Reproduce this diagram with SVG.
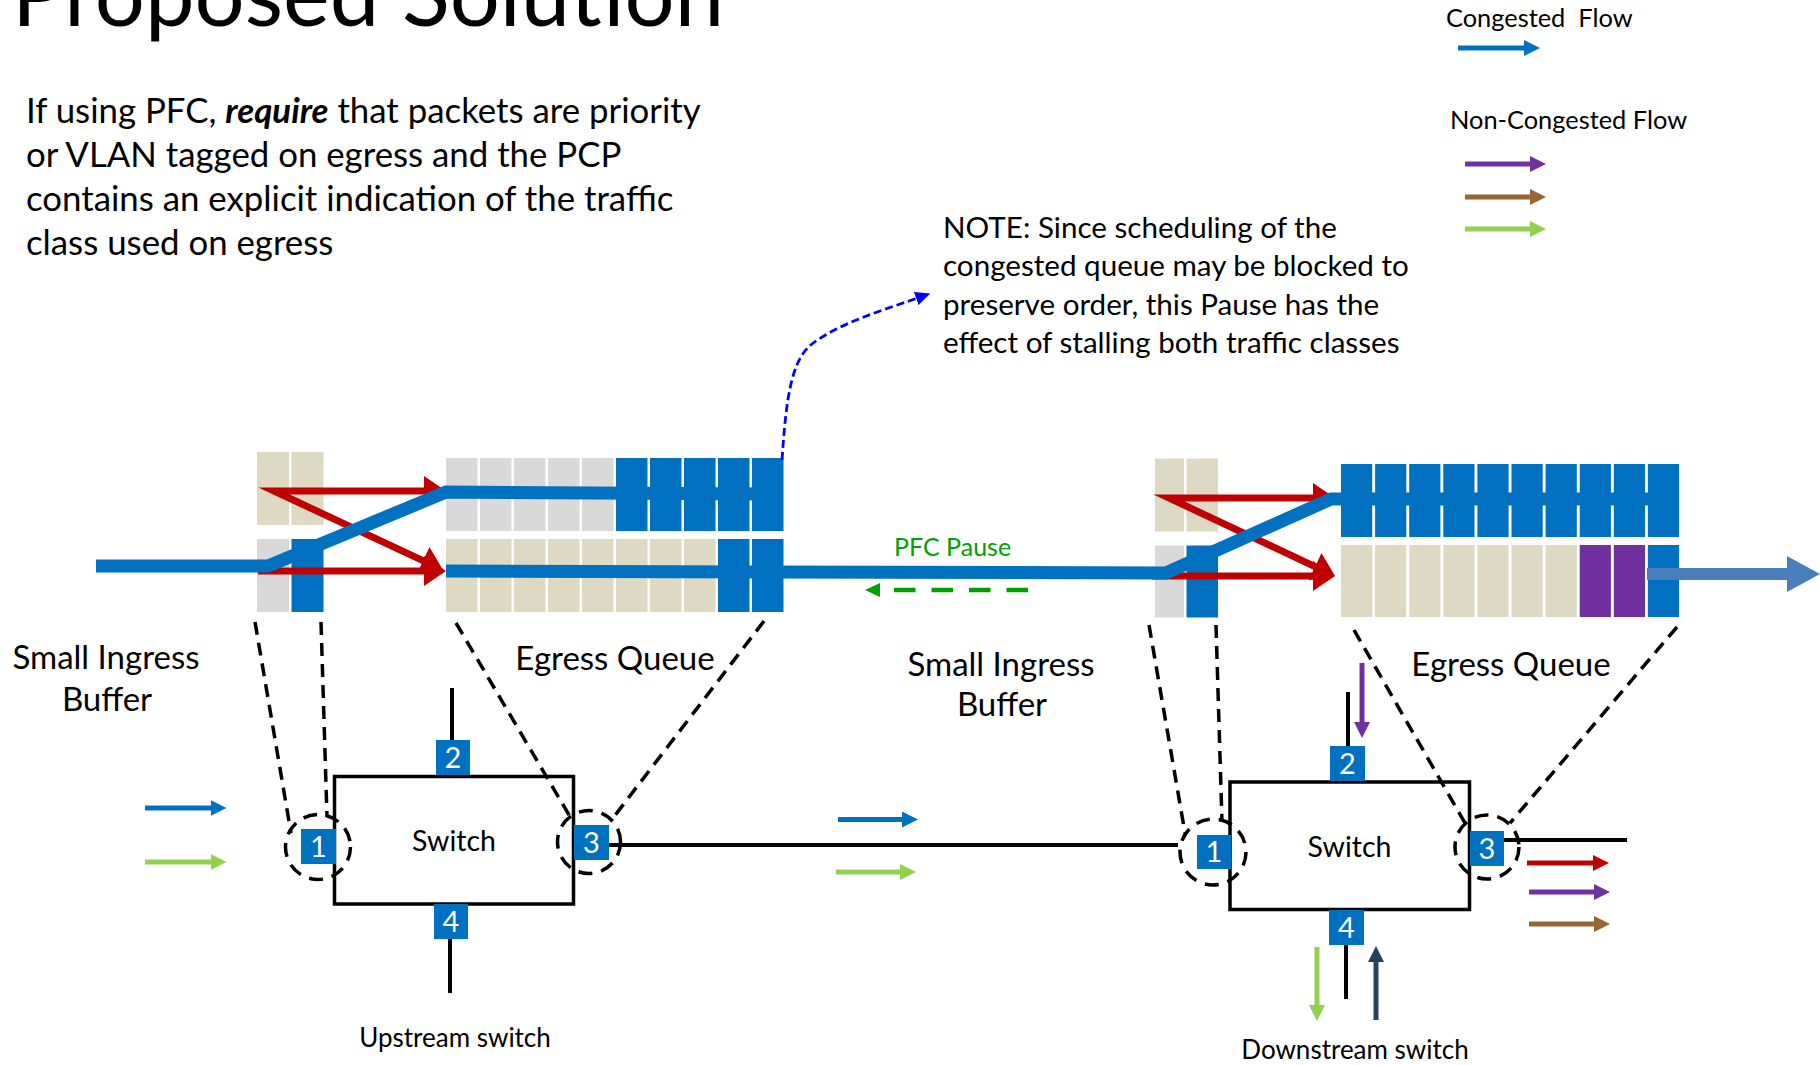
<svg xmlns="http://www.w3.org/2000/svg" width="1820" height="1065" viewBox="0 0 1820 1065">
  <style>
    text { font-family: Lato, "Open Sans", "Liberation Sans", sans-serif; fill: #000; }
    .title { font-size: 88.5px; }
    .body { font-size: 34.8px; }
    .note { font-size: 29.6px; }
    .legend { font-size: 25.4px; white-space: pre; }
    .label { font-size: 33px; text-anchor: middle; }
    .caption { font-size: 26px; text-anchor: middle; }
    .sw { font-size: 28.5px; text-anchor: middle; }
    .pnum { font-size: 29px; fill: #fff; text-anchor: middle; }
    .pause { font-size: 25px; fill: #00A000; }
    .tan { fill: #DDD9C3; }
    .gray { fill: #D9D9D9; }
    .blue { fill: #0070C0; }
    .purple { fill: #7030A0; }
    .port { fill: #0070C0; }
    .box { fill: #fff; stroke: #000; stroke-width: 3.5; }
    .wire { stroke: #000; stroke-width: 4; fill: none; }
    .funnel { stroke: #000; stroke-width: 3.5; stroke-dasharray: 13 8; fill: none; }
    .ring { stroke: #000; stroke-width: 3.5; stroke-dasharray: 14 9; fill: none; }
    .flow { stroke: #0070C0; stroke-width: 13; fill: none; stroke-linejoin: miter; }
    .red { stroke: #C00000; stroke-width: 7; fill: none; stroke-linejoin: miter; stroke-miterlimit: 8; }
    .sa { stroke-width: 5; fill: none; }
  </style>
  <defs>
    <marker id="h-blue" viewBox="0 0 16 16" refX="4" refY="8" markerWidth="16" markerHeight="16" markerUnits="userSpaceOnUse" orient="auto"><path d="M0,0 L16,8 L0,16 z" fill="#0070C0"/></marker>
    <marker id="h-green" viewBox="0 0 16 16" refX="4" refY="8" markerWidth="16" markerHeight="16" markerUnits="userSpaceOnUse" orient="auto"><path d="M0,0 L16,8 L0,16 z" fill="#92D050"/></marker>
    <marker id="h-purple" viewBox="0 0 16 16" refX="4" refY="8" markerWidth="16" markerHeight="16" markerUnits="userSpaceOnUse" orient="auto"><path d="M0,0 L16,8 L0,16 z" fill="#7030A0"/></marker>
    <marker id="h-brown" viewBox="0 0 16 16" refX="4" refY="8" markerWidth="16" markerHeight="16" markerUnits="userSpaceOnUse" orient="auto"><path d="M0,0 L16,8 L0,16 z" fill="#996633"/></marker>
    <marker id="h-red" viewBox="0 0 16 16" refX="4" refY="8" markerWidth="16" markerHeight="16" markerUnits="userSpaceOnUse" orient="auto"><path d="M0,0 L16,8 L0,16 z" fill="#C00000"/></marker>
    <marker id="h-navy" viewBox="0 0 16 16" refX="4" refY="8" markerWidth="16" markerHeight="16" markerUnits="userSpaceOnUse" orient="auto"><path d="M0,0 L16,8 L0,16 z" fill="#254061"/></marker>
    <marker id="h-bigred" viewBox="0 0 22 30" refX="4" refY="15" markerWidth="22" markerHeight="30" markerUnits="userSpaceOnUse" orient="auto-start-reverse"><path d="M0,0 L22,15 L0,30 z" fill="#C00000"/></marker>
    <marker id="h-out" viewBox="0 0 33 36" refX="4" refY="18" markerWidth="33" markerHeight="36" markerUnits="userSpaceOnUse" orient="auto"><path d="M0,0 L33,18 L0,36 z" fill="#4A7EBB"/></marker>
    <marker id="h-dblue" viewBox="0 0 15 14" refX="3" refY="7" markerWidth="15" markerHeight="14" markerUnits="userSpaceOnUse" orient="auto"><path d="M0,0 L15,7 L0,14 z" fill="#0000FF"/></marker>
    <marker id="h-dgreen" viewBox="0 0 15 14" refX="3" refY="7" markerWidth="15" markerHeight="14" markerUnits="userSpaceOnUse" orient="auto"><path d="M0,0 L15,7 L0,14 z" fill="#00A000"/></marker>
  </defs>

  <rect width="1820" height="1065" fill="#fff"/>

  <!-- heading and explanatory text -->
  <text class="title" x="12" y="26">Proposed Solution</text>
  <g id="intro">
    <text class="body" x="26" y="123">If using PFC, <tspan font-weight="bold" font-style="italic">require</tspan> that packets are priority</text>
    <text class="body" x="26" y="167">or VLAN tagged on egress and the PCP</text>
    <text class="body" x="26" y="211">contains an explicit indication of the traffic</text>
    <text class="body" x="26" y="255">class used on egress</text>
  </g>
  <g id="note">
    <text class="note" x="943" y="238">NOTE: Since scheduling of the</text>
    <text class="note" x="943" y="276">congested queue may be blocked to</text>
    <text class="note" x="943" y="314.5">preserve order, this Pause has the</text>
    <text class="note" x="943" y="353">effect of stalling both traffic classes</text>
  </g>

  <!-- legend -->
  <g id="legend">
    <text class="legend" x="1446" y="26.5">Congested  Flow</text>
    <text class="legend" x="1450" y="129">Non-Congested Flow</text>
    <line class="sa" x1="1458" y1="48" x2="1528" y2="48" stroke="#0070C0" marker-end="url(#h-blue)"/>
    <line class="sa" x1="1465" y1="164" x2="1534" y2="164" stroke="#7030A0" marker-end="url(#h-purple)"/>
    <line class="sa" x1="1465" y1="197" x2="1534" y2="197" stroke="#996633" marker-end="url(#h-brown)"/>
    <line class="sa" x1="1465" y1="229" x2="1534" y2="229" stroke="#92D050" marker-end="url(#h-green)"/>
  </g>

  <!-- upstream switch buffers -->
  <g id="ingress-up">
    <rect class="tan" x="257" y="452" width="32" height="73"/>
    <rect class="tan" x="291.5" y="452" width="32" height="73"/>
    <rect class="gray" x="257" y="539" width="32" height="73"/>
    <rect class="blue" x="291.5" y="539" width="32" height="73"/>
  </g>
  <g id="egress-up">
    <rect class="gray" x="446" y="458" width="31.5" height="73"/>
    <rect class="gray" x="480" y="458" width="31.5" height="73"/>
    <rect class="gray" x="514" y="458" width="31.5" height="73"/>
    <rect class="gray" x="548" y="458" width="31.5" height="73"/>
    <rect class="gray" x="582" y="458" width="31.5" height="73"/>
    <rect class="blue" x="616" y="458" width="31.5" height="73"/>
    <rect class="blue" x="650" y="458" width="31.5" height="73"/>
    <rect class="blue" x="684" y="458" width="31.5" height="73"/>
    <rect class="blue" x="718" y="458" width="31.5" height="73"/>
    <rect class="blue" x="752" y="458" width="31.5" height="73"/>
    <rect class="tan" x="446" y="539" width="31.5" height="73"/>
    <rect class="tan" x="480" y="539" width="31.5" height="73"/>
    <rect class="tan" x="514" y="539" width="31.5" height="73"/>
    <rect class="tan" x="548" y="539" width="31.5" height="73"/>
    <rect class="tan" x="582" y="539" width="31.5" height="73"/>
    <rect class="tan" x="616" y="539" width="31.5" height="73"/>
    <rect class="tan" x="650" y="539" width="31.5" height="73"/>
    <rect class="tan" x="684" y="539" width="31.5" height="73"/>
    <rect class="blue" x="718" y="539" width="31.5" height="73"/>
    <rect class="blue" x="752" y="539" width="31.5" height="73"/>
  </g>

  <!-- downstream switch buffers -->
  <g id="ingress-down">
    <rect class="tan" x="1155" y="458.5" width="29" height="73"/>
    <rect class="tan" x="1186.5" y="458.5" width="31.5" height="73"/>
    <rect class="gray" x="1155" y="545.5" width="29" height="72"/>
    <rect class="blue" x="1186.5" y="545.5" width="31.5" height="72"/>
  </g>
  <g id="egress-down">
    <rect class="blue" x="1341" y="464" width="31.2" height="73"/>
    <rect class="blue" x="1375.1" y="464" width="31.2" height="73"/>
    <rect class="blue" x="1409.2" y="464" width="31.2" height="73"/>
    <rect class="blue" x="1443.3" y="464" width="31.2" height="73"/>
    <rect class="blue" x="1477.4" y="464" width="31.2" height="73"/>
    <rect class="blue" x="1511.5" y="464" width="31.2" height="73"/>
    <rect class="blue" x="1545.6" y="464" width="31.2" height="73"/>
    <rect class="blue" x="1579.7" y="464" width="31.2" height="73"/>
    <rect class="blue" x="1613.8" y="464" width="31.2" height="73"/>
    <rect class="blue" x="1647.9" y="464" width="31.2" height="73"/>
    <rect class="tan" x="1341" y="545" width="31.2" height="72"/>
    <rect class="tan" x="1375.1" y="545" width="31.2" height="72"/>
    <rect class="tan" x="1409.2" y="545" width="31.2" height="72"/>
    <rect class="tan" x="1443.3" y="545" width="31.2" height="72"/>
    <rect class="tan" x="1477.4" y="545" width="31.2" height="72"/>
    <rect class="tan" x="1511.5" y="545" width="31.2" height="72"/>
    <rect class="tan" x="1545.6" y="545" width="31.2" height="72"/>
    <rect class="purple" x="1579.7" y="545" width="31.2" height="72"/>
    <rect class="purple" x="1613.8" y="545" width="31.2" height="72"/>
    <rect class="blue" x="1647.9" y="545" width="31.2" height="72"/>
  </g>

  <!-- buffer / queue captions -->
  <g id="captions">
    <text class="label" x="106" y="669">Small Ingress</text>
    <text class="label" x="107" y="711">Buffer</text>
    <text class="label" x="615" y="670">Egress Queue</text>
    <text class="label" x="1001" y="675.5">Small Ingress</text>
    <text class="label" x="1002" y="716">Buffer</text>
    <text class="label" x="1511" y="675.5">Egress Queue</text>
    <text class="caption" x="455" y="1047">Upstream switch</text>
    <text class="caption" x="1355" y="1059">Downstream switch</text>
    <text class="pause" x="894" y="556">PFC Pause</text>
  </g>

  <!-- switches -->
  <g id="switch-up">
    <rect class="box" x="334.5" y="776.5" width="239" height="127.5"/>
    <text class="sw" x="454" y="851">Switch</text>
  </g>
  <g id="switch-down">
    <rect class="box" x="1230" y="782" width="239.5" height="127.5"/>
    <text class="sw" x="1349.5" y="857">Switch</text>
  </g>

  <g id="connectors">
    <!-- port wiring -->
    <line class="wire" x1="452" y1="688" x2="452" y2="741"/>
    <line class="wire" x1="450" y1="938" x2="450" y2="993"/>
    <line class="wire" x1="609" y1="845" x2="1178" y2="845"/>
    <line class="wire" x1="1348" y1="692" x2="1348" y2="747"/>
    <line class="wire" x1="1346" y1="944" x2="1346" y2="999"/>
    <line class="wire" x1="1503" y1="840" x2="1627" y2="840"/>

    <!-- zoom-out guides from the buffers to the ports -->
    <line class="funnel" x1="255" y1="622" x2="291" y2="833"/>
    <line class="funnel" x1="321" y1="622" x2="327" y2="817"/>
    <line class="funnel" x1="456" y1="623" x2="572" y2="820"/>
    <line class="funnel" x1="764" y1="621" x2="613" y2="818"/>
    <line class="funnel" x1="1149" y1="625" x2="1185" y2="833"/>
    <line class="funnel" x1="1216" y1="625" x2="1222" y2="822"/>
    <line class="funnel" x1="1354" y1="630" x2="1465" y2="823"/>
    <line class="funnel" x1="1677" y1="627" x2="1510" y2="823"/>
    <circle class="ring" cx="318" cy="847" r="32.5"/>
    <circle class="ring" cx="589" cy="842" r="31.5"/>
    <circle class="ring" cx="1213" cy="852" r="33"/>
    <circle class="ring" cx="1487" cy="847" r="32"/>

    <!-- internal priority remapping -->
    <path class="red" d="M428,491 L274,491 L426.7,562.4" marker-start="url(#h-bigred)" marker-end="url(#h-bigred)"/>
    <line class="red" x1="258" y1="571" x2="428" y2="571" marker-end="url(#h-bigred)"/>
    <path class="red" d="M1317,498 L1169,498 L1318.7,568.3" marker-start="url(#h-bigred)" marker-end="url(#h-bigred)"/>
    <line class="red" x1="1152" y1="576" x2="1317" y2="576" marker-end="url(#h-bigred)"/>

    <!-- congested flow path -->
    <path class="flow" d="M96,566 L268,566 L446,492 L775,494"/>
    <path class="flow" d="M446,571 L1166,573 L1331,499 L1668,499"/>
    <line x1="1647" y1="574" x2="1791" y2="574" stroke="#4A7EBB" stroke-width="12" marker-end="url(#h-out)"/>

    <!-- pause and note pointer -->
    <line x1="1028" y1="590" x2="877" y2="590" stroke="#00A000" stroke-width="4.5" stroke-dasharray="21.5 16" marker-end="url(#h-dgreen)"/>
    <path d="M782,460 C786,400 791,360 812,344 C838,324 880,311 919,297.5" fill="none" stroke="#0000FF" stroke-width="2.8" stroke-dasharray="8 4" marker-end="url(#h-dblue)"/>

    <!-- traffic arrows at the ports -->
    <line class="sa" x1="145" y1="808" x2="214.5" y2="808" stroke="#0070C0" marker-end="url(#h-blue)"/>
    <line class="sa" x1="145" y1="862" x2="214.5" y2="862" stroke="#92D050" marker-end="url(#h-green)"/>
    <line class="sa" x1="838" y1="819.5" x2="906" y2="819.5" stroke="#0070C0" marker-end="url(#h-blue)"/>
    <line class="sa" x1="836" y1="872" x2="904" y2="872" stroke="#92D050" marker-end="url(#h-green)"/>
    <line class="sa" x1="1362" y1="663" x2="1362" y2="726" stroke="#7030A0" marker-end="url(#h-purple)"/>
    <line class="sa" x1="1317" y1="947" x2="1317" y2="1009" stroke="#92D050" marker-end="url(#h-green)"/>
    <line class="sa" x1="1376" y1="1020" x2="1376" y2="958" stroke="#254061" marker-end="url(#h-navy)"/>
    <line class="sa" x1="1527" y1="863" x2="1597" y2="863" stroke="#C00000" marker-end="url(#h-red)"/>
    <line class="sa" x1="1529" y1="892" x2="1598" y2="892" stroke="#7030A0" marker-end="url(#h-purple)"/>
    <line class="sa" x1="1529" y1="924" x2="1598" y2="924" stroke="#996633" marker-end="url(#h-brown)"/>
  </g>

  <!-- numbered ports -->
  <g id="port-up-1"><rect class="port" x="301" y="829" width="35" height="35"/><text class="pnum" x="318.5" y="857">1</text></g>
  <g id="port-up-2"><rect class="port" x="436" y="740" width="34" height="35"/><text class="pnum" x="453" y="768">2</text></g>
  <g id="port-up-3"><rect class="port" x="574" y="825" width="35" height="35"/><text class="pnum" x="591.5" y="853">3</text></g>
  <g id="port-up-4"><rect class="port" x="434" y="904" width="34" height="35"/><text class="pnum" x="451" y="932">4</text></g>
  <g id="port-down-1"><rect class="port" x="1197" y="835" width="34" height="34"/><text class="pnum" x="1214" y="862">1</text></g>
  <g id="port-down-2"><rect class="port" x="1330" y="746" width="35" height="35"/><text class="pnum" x="1347.5" y="774">2</text></g>
  <g id="port-down-3"><rect class="port" x="1470" y="831" width="34" height="35"/><text class="pnum" x="1487" y="859">3</text></g>
  <g id="port-down-4"><rect class="port" x="1329" y="910" width="35" height="35"/><text class="pnum" x="1346.5" y="938">4</text></g>
</svg>
